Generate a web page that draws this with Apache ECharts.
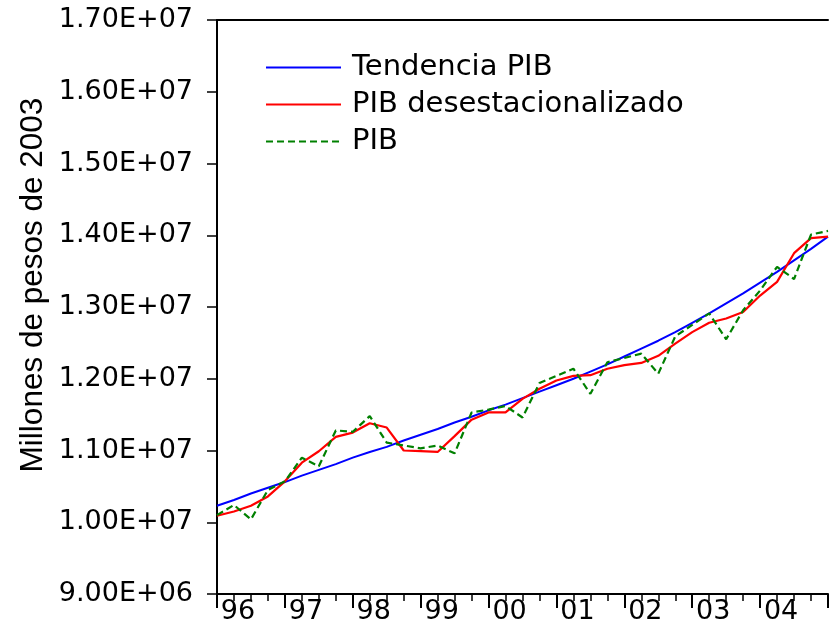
<!DOCTYPE html>
<html>
<head>
<meta charset="utf-8">
<script src="https://cdn.jsdelivr.net/npm/echarts@6/dist/echarts.min.js"></script>
<style>
  html, body { margin: 0; padding: 0; background: #fff; }
  #main { width: 831px; height: 644px; }
</style>
</head>
<body>
<div id="main"></div>
<script>
// trimestres 1996Q1 .. 2005Q1
const quarters = [
  '1996Q1','1996Q2','1996Q3','1996Q4','1997Q1','1997Q2','1997Q3','1997Q4',
  '1998Q1','1998Q2','1998Q3','1998Q4','1999Q1','1999Q2','1999Q3','1999Q4',
  '2000Q1','2000Q2','2000Q3','2000Q4','2001Q1','2001Q2','2001Q3','2001Q4',
  '2002Q1','2002Q2','2002Q3','2002Q4','2003Q1','2003Q2','2003Q3','2003Q4',
  '2004Q1','2004Q2','2004Q3','2004Q4','2005Q1'
];
const yearLabels = ['96','97','98','99','00','01','02','03','04'];

// valores en millones de pesos de 2003
const tendenciaPIB = [
  10.23, 10.31, 10.40, 10.48, 10.56, 10.65, 10.73, 10.81,
  10.90, 10.98, 11.05, 11.14, 11.22, 11.30, 11.39, 11.47,
  11.56, 11.64, 11.73, 11.82, 11.91, 12.00, 12.10, 12.20,
  12.31, 12.42, 12.53, 12.65, 12.78, 12.91, 13.05, 13.19,
  13.34, 13.49, 13.65, 13.81, 13.98
];
const pibDesest = [
  10.09, 10.15, 10.23, 10.36, 10.57, 10.83, 10.99, 11.19,
  11.25, 11.38, 11.32, 11.00, 10.99, 10.98, 11.20, 11.43,
  11.53, 11.53, 11.72, 11.86, 11.975, 12.04, 12.05, 12.14,
  12.19, 12.22, 12.32, 12.49, 12.65, 12.78, 12.84, 12.93,
  13.16, 13.35, 13.75, 13.96, 13.98
];
const pib = [
  10.10, 10.24, 10.04, 10.45, 10.57, 10.90, 10.78, 11.28,
  11.26, 11.48, 11.11, 11.07, 11.03, 11.07, 10.96, 11.53,
  11.57, 11.62, 11.46, 11.94, 12.04, 12.14, 11.79, 12.23,
  12.29, 12.35, 12.07, 12.59, 12.75, 12.91, 12.55, 12.955,
  13.23, 13.56, 13.39, 14.01, 14.06
];

function toPairs(arr) {
  return quarters.map((q, i) => [i, arr[i] * 1e6]);
}

// 1.70E+07
function sci(v) {
  let parts = v.toExponential(2).split('e');
  let n = parseInt(parts[1], 10);
  return parts[0] + 'E' + (n < 0 ? '-' : '+') + String(Math.abs(n)).padStart(2, '0');
}

let chart = echarts.init(document.getElementById('main'));
let option = {
  backgroundColor: '#fff',
  animation: false,
  grid: {
    left: 217,
    top: 20,
    right: -1,
    bottom: 50
  },
  legend: {
    orient: 'vertical',
    left: 265,
    top: 53,
    padding: 0,
    itemWidth: 75,
    itemHeight: 20,
    itemGap: 8,
    itemStyle: { opacity: 0 },
    textStyle: {
      fontFamily: 'DejaVu Sans',
      fontSize: 29,
      color: '#000',
      padding: [0, 0, 0, 6]
    },
    data: ['Tendencia PIB', 'PIB desestacionalizado', 'PIB']
  },
  graphic: [{
    type: 'text',
    x: 33,
    y: 285,
    rotation: Math.PI / 2,
    style: {
      text: 'Millones de pesos de 2003',
      fontFamily: 'Liberation Sans',
      fontSize: 31.5,
      fill: '#000',
      align: 'center',
      verticalAlign: 'middle'
    }
  }],
  xAxis: [
    {
      type: 'value',
      min: 0,
      max: 36,
      interval: 4,
      axisLine: { show: true, lineStyle: { color: '#000', width: 2 } },
      axisTick: { show: true, length: 14, lineStyle: { color: '#000', width: 2 } },
      minorTick: { show: true, splitNumber: 4, length: 7, lineStyle: { color: '#000', width: 1.5 } },
      splitLine: { show: false },
      axisLabel: {
        color: '#000',
        fontFamily: 'DejaVu Sans',
        fontSize: 27,
        margin: 4,
        padding: [0, 0, 0, 42],
        formatter: function (v) { return yearLabels[v / 4] || ''; }
      }
    },
    {
      // borde superior
      type: 'value',
      position: 'top',
      min: 0,
      max: 36,
      axisLine: { show: true, lineStyle: { color: '#000', width: 2 } },
      axisTick: { show: false },
      axisLabel: { show: false },
      splitLine: { show: false }
    }
  ],
  yAxis: {
    type: 'value',
    min: 9000000,
    max: 17000000,
    interval: 1000000,
    axisLine: { show: true, lineStyle: { color: '#000', width: 2 } },
    axisTick: { show: true, length: 10, lineStyle: { color: '#000', width: 1.5 } },
    splitLine: { show: false },
    axisLabel: {
      color: '#000',
      fontFamily: 'DejaVu Sans',
      fontSize: 27,
      margin: 24,
      formatter: sci
    }
  },
  series: [
    {
      name: 'Tendencia PIB',
      type: 'line',
      symbol: 'none',
      lineStyle: { color: '#0000ff', width: 2 },
      itemStyle: { color: '#0000ff' },
      data: toPairs(tendenciaPIB)
    },
    {
      name: 'PIB desestacionalizado',
      type: 'line',
      symbol: 'none',
      lineStyle: { color: '#ff0000', width: 2.2 },
      itemStyle: { color: '#ff0000' },
      data: toPairs(pibDesest)
    },
    {
      name: 'PIB',
      type: 'line',
      symbol: 'none',
      lineStyle: { color: '#008000', width: 2.2, type: [7, 4] },
      itemStyle: { color: '#008000' },
      data: toPairs(pib)
    }
  ]
};
chart.setOption(option);
</script>
</body>
</html>
